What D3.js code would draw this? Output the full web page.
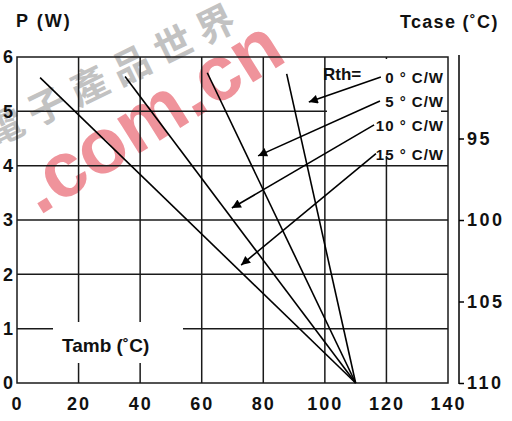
<!DOCTYPE html>
<html>
<head>
<meta charset="utf-8">
<script src="https://cdn.jsdelivr.net/npm/d3@7"></script>
<style>
  body { margin: 0; background: #fff; }
  text { font-family: "Liberation Sans", Arial, sans-serif; fill: #111; }
</style>
</head>
<body>
<div id="chart"></div>
<script>
// values
const tambTicks = [0, 20, 40, 60, 80, 100, 120, 140];
const powerTicks = [0, 1, 2, 3, 4, 5, 6];
const tcaseTicks = [95, 100, 105, 110];

const rthLabels = ["0 ° C/W", "5 ° C/W", "10 ° C/W", "15 ° C/W"];
// each derating line starts here and ends at (110 °C, 0 W)
const startTamb = [87.6, 61.8, 35.1, 7.5];
const startPower = [5.69, 5.71, 5.64, 5.62];
const endTamb = 110;
const endPower = 0;

// arrows from the labels to the lines (data units)
const arrowFromTamb = [118.2, 117.9, 116.0, 116.6];
const arrowFromPower = [5.63, 5.19, 4.75, 4.22];
const arrowToTamb = [94.8, 78.3, 69.8, 72.8];
const arrowToPower = [5.17, 4.18, 3.22, 2.17];

const W = 512, H = 421;
const svg = d3.select("#chart").append("svg")
    .attr("width", W)
    .attr("height", H);

const x = d3.scaleLinear().domain([0, 140]).range([17, 448]);
const y = d3.scaleLinear().domain([0, 6]).range([383, 57]);
const tc = d3.scaleLinear().domain([90, 110]).range([57, 383]);

// watermark
svg.append("text")
    .attr("transform", "translate(120,86) rotate(-26)")
    .attr("text-anchor", "middle")
    .style("font-family", "'Noto Sans CJK TC'")
    .style("font-size", "38px")
    .style("font-weight", "bold")
    .style("letter-spacing", "9px")
    .style("fill", "#c2c2c2")
    .text("電子產品世界");

svg.append("text")
    .attr("transform", "translate(164,138) rotate(-32)")
    .attr("text-anchor", "middle")
    .style("font-size", "78px")
    .style("font-weight", "bold")
    .style("fill", "#ef939b")
    .text(".com.cn");

// grid
const grid = svg.append("g").attr("stroke", "#1a1a1a").attr("stroke-width", 1.5);
grid.selectAll(".vx")
    .data(tambTicks.slice(1, -1))
    .enter().append("line")
    .attr("x1", d => x(d)).attr("x2", d => x(d))
    .attr("y1", y(6)).attr("y2", y(0));
grid.selectAll(".hy")
    .data(powerTicks.slice(1, -1))
    .enter().append("line")
    .attr("x1", x(0)).attr("x2", x(140))
    .attr("y1", d => y(d)).attr("y2", d => y(d));

// white boxes that break the grid behind the labels
svg.append("rect").attr("x", 53).attr("y", 322).attr("width", 130).attr("height", 41).attr("fill", "#fff");
svg.append("rect").attr("x", 327).attr("y", 59).attr("width", 114).attr("height", 97).attr("fill", "#fff");

// frame
svg.append("rect")
    .attr("x", x(0)).attr("y", y(6))
    .attr("width", x(140) - x(0)).attr("height", y(0) - y(6))
    .attr("fill", "none").attr("stroke", "#1a1a1a").attr("stroke-width", 1.5);

// derating lines
const lines = rthLabels.map((d, i) => [[startTamb[i], startPower[i]], [endTamb, endPower]]);
svg.append("g").selectAll("path")
    .data(lines)
    .enter().append("path")
    .attr("d", d3.line().x(d => x(d[0])).y(d => y(d[1])))
    .attr("fill", "none")
    .attr("stroke", "#000")
    .attr("stroke-width", 1.6);

// arrows
svg.append("defs").append("marker")
    .attr("id", "head")
    .attr("viewBox", "0 0 10 10")
    .attr("refX", 10).attr("refY", 5)
    .attr("markerWidth", 13).attr("markerHeight", 9)
    .attr("markerUnits", "userSpaceOnUse")
    .attr("orient", "auto")
    .append("path").attr("d", "M0,0L10,5L0,10Z").attr("fill", "#000");

svg.append("g").selectAll("line")
    .data(rthLabels)
    .enter().append("line")
    .attr("x1", (d, i) => x(arrowFromTamb[i]))
    .attr("y1", (d, i) => y(arrowFromPower[i]))
    .attr("x2", (d, i) => x(arrowToTamb[i]))
    .attr("y2", (d, i) => y(arrowToPower[i]))
    .attr("stroke", "#000")
    .attr("stroke-width", 1.6)
    .attr("marker-end", "url(#head)");

// legend labels
svg.append("g").selectAll("text")
    .data(rthLabels)
    .enter().append("text")
    .attr("x", 444)
    .attr("y", (d, i) => y(arrowFromPower[i]) + 6)
    .attr("text-anchor", "end")
    .style("font-size", "15px")
    .style("font-weight", "bold")
    .style("letter-spacing", "1px")
    .text(d => d);

svg.append("text")
    .attr("x", 323).attr("y", 80)
    .style("font-size", "17px")
    .style("font-weight", "bold")
    .text("Rth=");

// bottom axis
svg.append("g")
    .attr("transform", `translate(0,${y(0)})`)
    .call(d3.axisBottom(x).tickValues(tambTicks).tickSize(0).tickPadding(14))
    .call(g => g.select(".domain").remove())
    .selectAll("text")
    .style("font-size", "18px")
    .style("font-weight", "bold")
    .style("letter-spacing", "2px")
    .style("font-family", "'Liberation Sans', Arial, sans-serif")
    .attr("fill", "#111");

// left axis
svg.append("g")
    .attr("transform", `translate(${x(0)},0)`)
    .call(d3.axisLeft(y).tickValues(powerTicks).tickFormat(d3.format("d")).tickSize(0).tickPadding(4))
    .call(g => g.select(".domain").remove())
    .selectAll("text")
    .style("font-size", "18px")
    .style("font-weight", "bold")
    .style("font-family", "'Liberation Sans', Arial, sans-serif")
    .attr("fill", "#111");

// right axis (case temperature)
const right = svg.append("g").attr("transform", "translate(459,0)");
right.append("line")
    .attr("y1", tc(90) - 2).attr("y2", tc(110) + 1)
    .attr("stroke", "#000").attr("stroke-width", 2.2);
right.call(d3.axisRight(tc).tickValues(tcaseTicks).tickSize(5).tickPadding(3))
    .call(g => g.select(".domain").remove())
    .call(g => g.selectAll("line").attr("stroke", "#000").attr("stroke-width", 1.5))
    .selectAll("text")
    .style("font-size", "18px")
    .style("font-weight", "bold")
    .style("letter-spacing", "2.5px")
    .style("font-family", "'Liberation Sans', Arial, sans-serif")
    .attr("fill", "#111");

// titles
svg.append("text")
    .attr("x", 16).attr("y", 27)
    .style("font-size", "18px")
    .style("font-weight", "bold")
    .style("letter-spacing", "2px")
    .text("P (W)");

svg.append("text")
    .attr("x", 400).attr("y", 28)
    .style("font-size", "18px")
    .style("font-weight", "bold")
    .style("letter-spacing", "1.3px")
    .text("Tcase (˚C)");

svg.append("text")
    .attr("x", 62).attr("y", 352)
    .style("font-size", "19px")
    .style("font-weight", "bold")
    .text("Tamb (˚C)");
</script>
</body>
</html>
